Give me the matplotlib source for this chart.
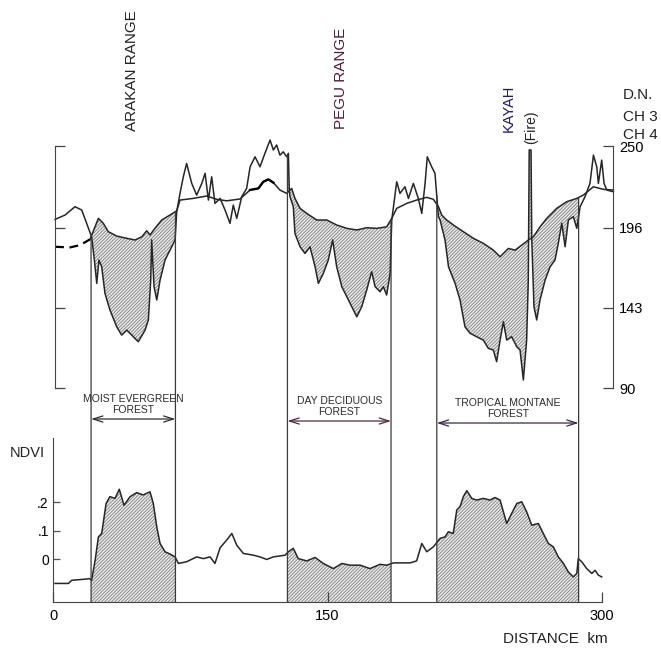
import matplotlib

matplotlib.use("Agg")
import matplotlib.pyplot as plt  # noqa: E402
import numpy as np  # noqa: E402
from matplotlib import transforms  # noqa: E402
from matplotlib.patches import ConnectionPatch  # noqa: E402

# ---- data (distance in km) ----
# CH4 curve (smooth, upper in forests); first points are the dashed stretch
CH4_KM = [1.1, 9.3, 14.8, 20.2, 24.8, 27.5, 30.2, 34.8, 40.3, 44.8, 48.5, 51.2, 53.0, 55.7,
          59.4, 63.9, 67.6, 69.4, 76.7, 84.0, 89.4, 94.9, 102.2, 107.7, 112.2, 114.9, 117.7,
          120.4, 124.0, 127.7, 130.4, 132.2, 135.0, 138.6, 144.1, 149.6, 155.0, 160.5, 166.0,
          171.4, 176.9, 182.3, 185.1, 187.8, 193.3, 198.7, 204.2, 207.8, 210.6, 212.4, 215.1,
          218.8, 224.2, 229.7, 235.1, 240.6, 244.3, 248.8, 252.5, 256.1, 259.8, 262.5, 266.1,
          269.8, 275.2, 280.7, 286.2, 289.8, 295.3, 300.7, 306.2]
CH4_DN = [183.4, 183.0, 184.5, 188.3, 202.2, 198.9, 193.4, 190.5, 189.0, 187.9, 190.0, 194.0,
          191.2, 195.6, 201.1, 204.4, 207.2, 214.3, 215.4, 217.0, 214.8, 213.8, 215.0, 221.0,
          222.0, 226.4, 228.0, 225.8, 220.9, 218.7, 222.0, 215.4, 208.8, 205.5, 201.1, 201.1,
          197.8, 195.6, 194.5, 196.0, 195.6, 196.6, 202.2, 208.8, 212.1, 214.3, 216.1, 214.8,
          209.9, 204.4, 201.1, 197.8, 193.4, 189.0, 185.7, 181.2, 176.8, 182.3, 181.2, 184.5,
          187.9, 190.0, 196.6, 202.2, 208.8, 213.2, 215.4, 217.6, 223.1, 221.4, 220.9]

# CH3 curve (dips in forests, peaks over clearings, fire spike near Kayah)
CH3_KM = [1.1, 6.6, 12.0, 15.7, 18.4, 21.1, 22.6, 23.9, 25.1, 26.6, 28.4, 31.1, 34.8, 37.5,
          40.3, 43.9, 46.6, 50.3, 52.1, 53.4, 53.9, 55.2, 56.7, 58.5, 61.2, 63.9, 66.7, 67.6,
          69.4, 71.2, 73.0, 75.8, 78.5, 81.3, 83.1, 84.9, 86.7, 88.5, 91.3, 94.0, 96.7, 98.5,
          100.4, 103.1, 105.8, 107.7, 110.4, 113.1, 115.8, 118.6, 120.4, 122.2, 124.0, 125.8,
          127.7, 128.6, 129.1, 129.5, 131.3, 132.2, 135.0, 137.7, 140.4, 143.2, 145.0, 147.7,
          150.4, 152.8, 155.0, 157.8, 161.4, 166.0, 168.7, 171.4, 174.1, 176.0, 178.7, 180.5,
          182.3, 184.2, 185.1, 187.8, 189.6, 192.3, 194.2, 196.9, 199.6, 201.5, 203.3, 204.5,
          206.9, 208.7, 210.6, 211.5, 214.2, 216.1, 219.7, 222.4, 225.1, 227.9, 231.5, 235.1,
          237.9, 240.6, 242.4, 244.3, 246.1, 247.9, 250.6, 253.4, 255.2, 257.0, 258.8, 259.7,
          260.2, 261.2, 261.6, 262.8, 264.3, 266.1, 268.9, 271.6, 274.3, 276.1, 278.0, 279.8,
          281.6, 284.3, 286.2, 288.0, 290.7, 293.4, 295.3, 297.1, 298.0, 299.8, 301.1, 302.6,
          306.2]
CH3_DN = [201.5, 204.4, 209.9, 207.7, 198.9, 190.0, 174.6, 159.2, 174.6, 170.2, 152.6, 141.6,
          130.5, 125.0, 128.3, 123.9, 120.6, 128.3, 135.0, 161.4, 187.9, 157.0, 148.2, 161.4,
          174.6, 181.2, 187.9, 206.6, 218.7, 229.7, 238.5, 225.3, 217.6, 225.3, 232.0, 214.3,
          229.7, 212.1, 215.4, 207.7, 198.9, 211.0, 202.2, 216.5, 222.0, 236.3, 242.9, 236.3,
          245.2, 254.0, 247.4, 250.7, 244.0, 246.2, 242.9, 245.2, 220.9, 216.5, 209.9, 192.3,
          183.4, 179.0, 183.4, 170.2, 159.2, 165.8, 174.6, 187.9, 170.2, 157.0, 148.2, 137.1,
          143.8, 154.8, 166.9, 157.0, 153.7, 157.0, 151.5, 165.8, 201.1, 226.4, 218.7, 223.1,
          215.4, 225.3, 215.4, 205.5, 225.3, 242.9, 236.3, 232.0, 203.3, 201.1, 187.9, 170.2,
          159.2, 148.2, 130.5, 126.2, 123.9, 121.7, 116.2, 115.1, 107.4, 121.7, 133.8, 121.7,
          123.9, 117.3, 115.1, 95.3, 121.7, 161.4, 247.4, 247.4, 187.9, 143.8, 135.0, 148.2,
          161.4, 170.2, 174.6, 185.7, 198.9, 183.4, 201.1, 203.3, 195.6, 209.9, 216.5, 225.3,
          244.0, 236.3, 225.3, 240.7, 225.3, 220.9, 219.8]

NDVI_KM = [1.1, 8.4, 10.2, 17.5, 19.9, 21.1, 23.0, 24.8, 26.6, 29.0, 31.1, 33.9, 36.2, 38.8,
           42.1, 45.7, 49.3, 53.0, 54.8, 56.7, 58.5, 61.2, 63.9, 66.7, 68.5, 73.0, 78.5, 82.1,
           85.8, 88.5, 91.3, 94.9, 97.7, 100.4, 104.0, 109.5, 113.1, 116.8, 120.4, 126.8, 128.6,
           131.3, 134.0, 138.6, 143.2, 147.7, 153.2, 157.8, 162.3, 167.8, 173.2, 178.7, 182.3,
           186.0, 195.1, 198.7, 201.5, 204.2, 207.8, 211.5, 214.2, 216.0, 218.7, 220.6, 222.4,
           224.2, 226.1, 228.8, 231.5, 235.1, 238.8, 241.5, 244.3, 247.9, 250.6, 253.4, 256.1,
           258.8, 261.6, 265.2, 267.9, 270.7, 273.4, 276.1, 278.9, 281.6, 284.3, 286.2, 287.0,
           288.9, 291.6, 294.4, 296.2, 298.0, 299.8]
NDVI_VAL = [-0.085, -0.085, -0.074, -0.070, -0.068, -0.074, -0.004, 0.078, 0.090, 0.195,
            0.219, 0.213, 0.245, 0.189, 0.219, 0.233, 0.225, 0.236, 0.195, 0.113,
            0.055, 0.026, 0.018, 0.008, -0.015, -0.009, 0.008, 0.002, 0.008, -0.015,
            0.040, 0.067, 0.090, 0.049, 0.020, 0.014, 0.008, -0.001, 0.008, 0.014,
            0.026, 0.038, 0.002, -0.006, 0.006, -0.015, -0.033, -0.015, -0.021, -0.021,
            -0.033, -0.018, -0.021, -0.013, -0.013, -0.006, 0.055, 0.026, 0.043, 0.073,
            0.078, 0.096, 0.090, 0.172, 0.184, 0.219, 0.240, 0.213, 0.207, 0.213,
            0.207, 0.216, 0.207, 0.125, 0.160, 0.195, 0.201, 0.166, 0.119, 0.125,
            0.090, 0.055, 0.043, 0.008, -0.015, -0.045, -0.062, -0.050, 0.002, -0.009,
            -0.033, -0.050, -0.039, -0.056, -0.062]

FORESTS = [(20.8, 66.9), (128.1, 184.7), (209.7, 287.2)]
FOREST_LABELS = ["MOIST EVERGREEN\nFOREST", "DAY DECIDUOUS\nFOREST", "TROPICAL MONTANE\nFOREST"]
DN_TICKS = [250, 196, 143, 90]
NDVI_TICKS = [0, 0.1, 0.2]
NDVI_TICK_LABELS = ["0", ".1", ".2"]
DIST_TICKS = [0, 150, 300]

INK = "#262626"
HATCH = "#8a8a8a"
HATCH_BG = "#ededed"


def segment(xs, ys, a, b):
    xs = np.asarray(xs)
    ys = np.asarray(ys)
    inside = (xs > a) & (xs < b)
    sx = np.concatenate([[a], xs[inside], [b]])
    sy = np.concatenate([[np.interp(a, xs, ys)], ys[inside], [np.interp(b, xs, ys)]])
    return sx, sy


plt.rcParams.update({
    "font.family": ["Liberation Sans", "DejaVu Sans"],
    "hatch.linewidth": 0.7,
})

fig = plt.figure(figsize=(6.61, 6.53), dpi=100)
fig.patch.set_facecolor("white")
ax_top = fig.add_axes([0.0802, 0.3942, 0.8583, 0.4099])
ax_bot = fig.add_axes([0.0802, 0.0781, 0.8583, 0.2623])
for ax in (ax_top, ax_bot):
    ax.set_xlim(0, 310)
    ax.patch.set_alpha(0)

# ---- top panel: CH3 / CH4 digital numbers ----
ax = ax_top
ax.set_ylim(85, 262)
for a, b in FORESTS:
    ux, uy = segment(CH4_KM, CH4_DN, a, b)
    lx, ly = segment(CH3_KM, CH3_DN, a, b)
    ax.fill(np.concatenate([ux, lx[::-1]]), np.concatenate([uy, ly[::-1]]),
            facecolor=HATCH_BG, edgecolor=HATCH, hatch="//////////", linewidth=0)
ax.plot(CH3_KM, CH3_DN, color=INK, lw=1.1)
ax.plot(CH4_KM[3:], CH4_DN[3:], color=INK, lw=1.1)
ax.plot(CH4_KM[:4], CH4_DN[:4], color="black", lw=1.6, ls=(0, (4, 2.5)))
ax.plot(CH4_KM[23:28], CH4_DN[23:28], color="black", lw=1.7)

for side in ("top", "bottom"):
    ax.spines[side].set_visible(False)
ax.spines["left"].set_position(("data", 1.1))
ax.spines["right"].set_position(("data", 306.2))
for side in ("left", "right"):
    ax.spines[side].set_bounds(90, 250)
    ax.spines[side].set_color("#444444")
ax.set_xticks([])
ax.set_yticks(DN_TICKS)
ax.tick_params(axis="y", left=True, right=True, labelleft=False, labelright=True,
               direction="in", length=7, width=0.9, color="#444444", labelsize=10.5, pad=4)

trans = transforms.blended_transform_factory(ax.transData, fig.transFigure)
ax.text(43.4, 0.8913, "ARAKAN RANGE", rotation=90, ha="center", va="center",
        transform=trans, fontsize=11, color="#222222")
ax.text(157.4, 0.8806, "PEGU RANGE", rotation=90, ha="center", va="center",
        transform=trans, fontsize=11, color="#4b1d33")
ax.text(249.2, 0.8338, "KAYAH", rotation=90, ha="center", va="center",
        transform=trans, fontsize=10.5, color="#24195a")
ax.text(261.2, 0.8047, "(Fire)", rotation=90, ha="center", va="center",
        transform=trans, fontsize=10, color="#222222")
for label, yf in zip(["D.N.", "CH 3", "CH 4"], [0.8545, 0.8208, 0.7933]):
    fig.text(0.9425, yf, label, ha="left", va="center", fontsize=11, color="#222222")

# ---- bottom panel: NDVI ----
ax = ax_bot
ax.set_ylim(-0.15, 0.45)
for a, b in FORESTS:
    sx, sy = segment(NDVI_KM, NDVI_VAL, a, b)
    ax.fill_between(sx, sy, -0.15, facecolor=HATCH_BG, edgecolor=HATCH, hatch="//////////",
                    linewidth=0)
ax.plot(NDVI_KM, NDVI_VAL, color=INK, lw=1.1)

for side in ("top", "right"):
    ax.spines[side].set_visible(False)
ax.spines["left"].set_bounds(-0.15, 0.425)
ax.spines["bottom"].set_bounds(0, 300)
for side in ("left", "bottom"):
    ax.spines[side].set_color("#444444")
ax.set_yticks(NDVI_TICKS, NDVI_TICK_LABELS)
ax.set_xticks(DIST_TICKS, [str(t) for t in DIST_TICKS])
ax.tick_params(axis="y", direction="in", length=5, width=0.9, color="#555555",
               labelsize=10, pad=3)
ax.tick_params(axis="x", direction="in", length=7, width=0.9, color="#444444",
               labelsize=10.5, pad=5)

fig.text(0.0151, 0.3063, "NDVI", ha="left", va="center", fontsize=10.5, color="#222222")
fig.text(0.9198, 0.0214, "DISTANCE  km", ha="right", va="center", fontsize=11,
         color="#222222")

arrow_colors = ["#2e2e2e", "#4a2c3c", "#3a2846"]
for (a, b), label, ay, col in zip(FORESTS, FOREST_LABELS, [0.491, 0.484, 0.477], arrow_colors):
    ax.annotate("", xy=(b, ay), xytext=(a, ay), annotation_clip=False,
                arrowprops=dict(arrowstyle="<->,head_length=0.7,head_width=0.22",
                                color=col, lw=0.9, shrinkA=0, shrinkB=0))
    ax.text((a + b) / 2, ay + 0.014, label, ha="center", va="bottom", fontsize=7.5,
            linespacing=1.1, clip_on=False, color="#2a2a2a")

# boundary lines running from the DN profile down to the distance axis
for a, b in FORESTS:
    for x in (a, b):
        top = max(np.interp(x, CH4_KM, CH4_DN), np.interp(x, CH3_KM, CH3_DN))
        con = ConnectionPatch(xyA=(x, top), coordsA=ax_top.transData,
                              xyB=(x, -0.15), coordsB=ax_bot.transData,
                              color="#3a3a3a", lw=0.9)
        fig.add_artist(con)

fig.savefig("out.png", dpi=100)
plt.close(fig)
